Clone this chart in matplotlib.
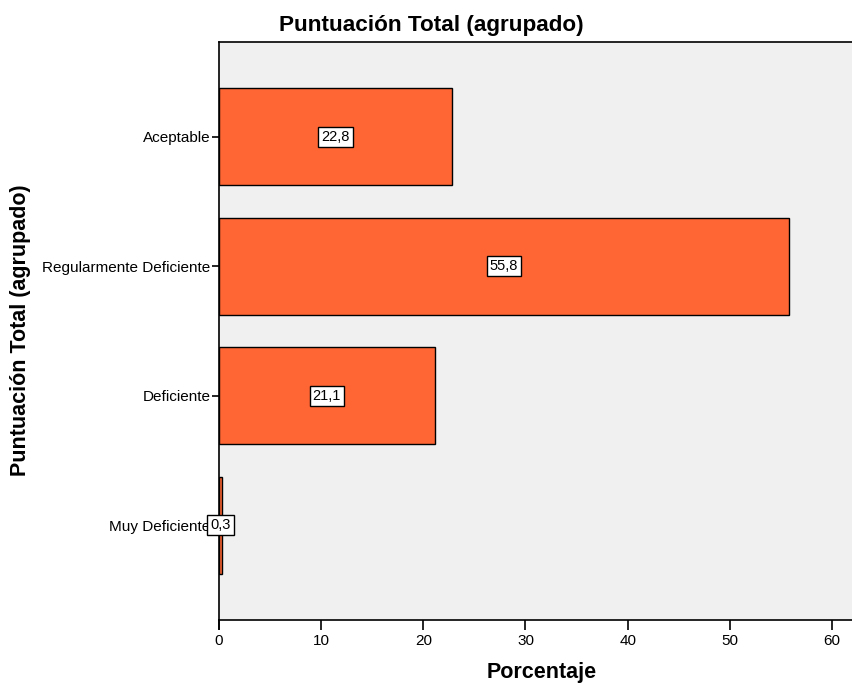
import matplotlib
matplotlib.use("Agg")
import matplotlib.pyplot as plt
from matplotlib.lines import Line2D

categories = ["Muy Deficiente", "Deficiente", "Regularmente Deficiente", "Aceptable"]
values = [0.3, 21.1, 55.8, 22.8]
labels = ["0,3", "21,1", "55,8", "22,8"]
xticks = [0, 10, 20, 30, 40, 50, 60]

plt.rcParams['font.family'] = ['Liberation Sans', 'DejaVu Sans']

fig = plt.figure(figsize=(8.52, 6.83), dpi=100)
ax = fig.add_axes([0.257, 0.0922, 0.743, 0.8463])
ax.set_facecolor("#F0F0F0")

ypos = list(range(len(categories)))
ax.barh(ypos, values, height=0.75, color="#FF6633", edgecolor="black", linewidth=1.0, zorder=2)

for y, v, lab in zip(ypos, values, labels):
    ax.text(v / 2, y, lab, ha="center", va="center", fontsize=10.5,
            bbox=dict(boxstyle="square,pad=0.2", fc="white", ec="black", lw=1), zorder=3)

ax.set_xlim(0, 61.96)
ax.set_ylim(-0.733, 3.733)
ax.set_yticks(ypos)
ax.set_yticklabels(categories, fontsize=11)
ax.set_xticks(xticks)
ax.set_xticklabels([str(t) for t in xticks], fontsize=11)
ax.tick_params(axis="both", direction="out", length=7, width=1.2, color="black")
ax.tick_params(axis="y", length=5, pad=1)
ax.tick_params(axis="x", pad=3)

for s in ["left", "bottom", "top"]:
    ax.spines[s].set_linewidth(1.2)
    ax.spines[s].set_color("black")
ax.spines["right"].set_visible(False)

ax.add_line(Line2D([0, 0], [-0.015, 0], transform=ax.transAxes, color="black",
                   lw=1.2, clip_on=False))

fig.text(0.506, 0.963, "Puntuación Total (agrupado)", fontsize=16.2, fontweight="bold",
         ha="center", va="center")
ax.set_xlabel("Porcentaje", fontsize=15.5, fontweight="bold", va="center")
ax.set_ylabel("Puntuación Total (agrupado)", fontsize=15.5, fontweight="bold", va="center")
ax.xaxis.set_label_coords(0.51, -0.09)
ax.yaxis.set_label_coords(-0.314, 0.502)

fig.savefig("out.png", dpi=100)
